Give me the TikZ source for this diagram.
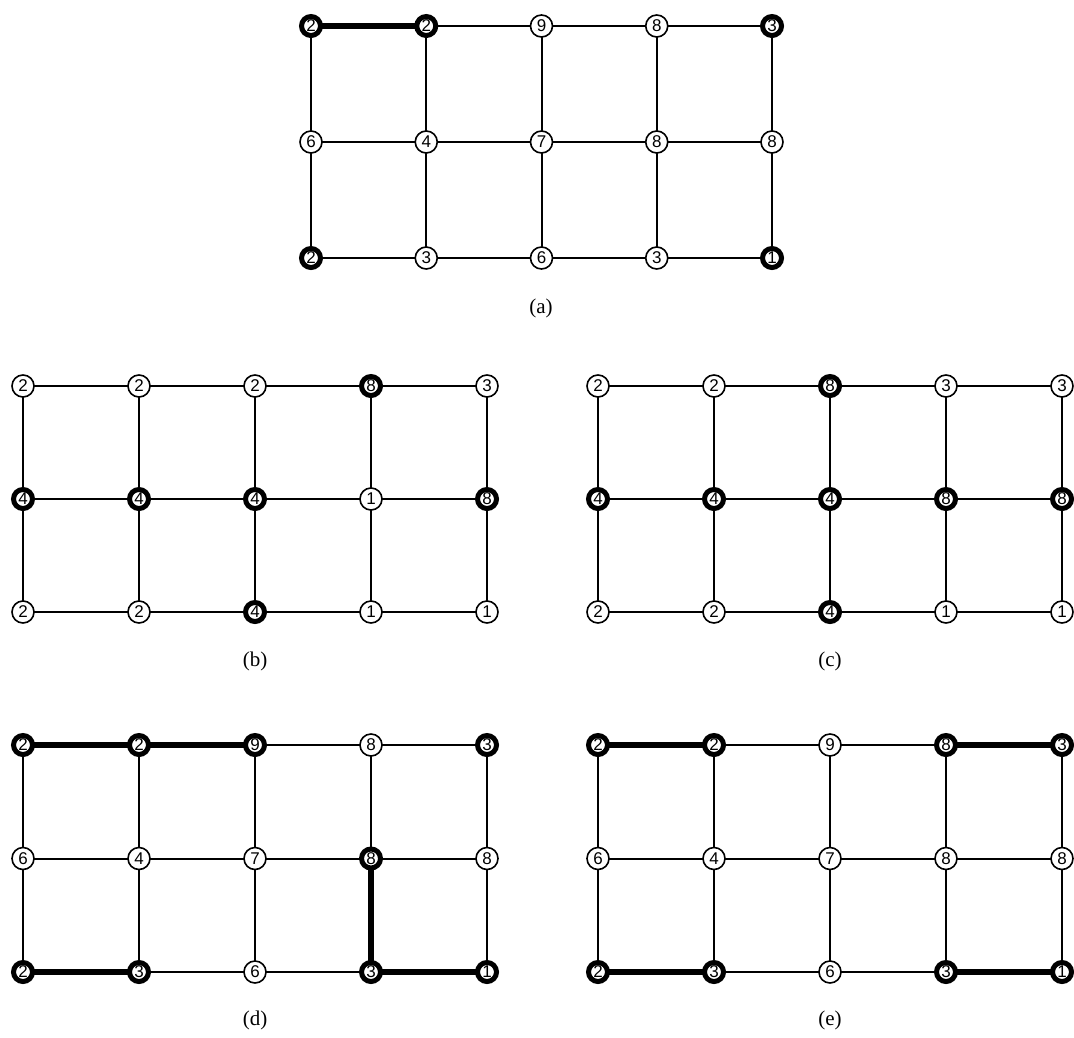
\documentclass[tikz,border=0pt]{standalone}
\usepackage{fontspec}
\newfontfamily\numfont{Liberation Sans}
\newfontfamily\capfont{Liberation Serif}
\begin{document}
\begin{tikzpicture}[x=1pt,y=-1pt,
  vtx/.style={circle,draw=black,fill=white,line width=1.6pt,minimum size=22pt,inner sep=0pt,font=\numfont\fontsize{17}{17}\selectfont},
  hvtx/.style={vtx,line width=5pt,minimum size=19pt},
  edg/.style={line width=2pt},
  hedg/.style={line width=5.5pt},
  captxt/.style={font=\capfont\fontsize{21}{21}\selectfont}]
\useasboundingbox (0,0) rectangle (1074,1037);
\newcommand{\mkgrid}[5]{%
  \foreach \r in {0,1,2} {\foreach \c in {0,1,2,3,4} {
    \coordinate (#1-\c-\r) at ({#2+\c*#4},{#3+\r*#5});
  }}
}
\newcommand{\drawgridedges}[1]{%
  \foreach \r in {0,1,2} {\foreach \c/\n in {0/1,1/2,2/3,3/4} {
    \draw[edg] (#1-\c-\r) -- (#1-\n-\r);
  }}
  \foreach \c in {0,1,2,3,4} {\foreach \r/\n in {0/1,1/2} {
    \draw[edg] (#1-\c-\r) -- (#1-\c-\n);
  }}
}
\newcommand{\putnodes}[2]{%
  \foreach \c/\r/\v/\h in {#2} {
    \ifnum\h=1
      \node[hvtx] (#1n-\c-\r) at (#1-\c-\r) {\v};
    \else
      \node[vtx] (#1n-\c-\r) at (#1-\c-\r) {\v};
    \fi
  }
}
% panel a
\mkgrid{a}{311}{26}{115.25}{116}
\drawgridedges{a}
\draw[hedg] (a-0-0) -- (a-1-0);
\putnodes{a}{0/0/2/1,1/0/2/1,2/0/9/0,3/0/8/0,4/0/3/1,0/1/6/0,1/1/4/0,2/1/7/0,3/1/8/0,4/1/8/0,0/2/2/1,1/2/3/0,2/2/6/0,3/2/3/0,4/2/1/1}
\node[captxt] (capa) at (541,308) {(a)};
% panel b
\mkgrid{b}{23}{386}{116}{113}
\drawgridedges{b}
\putnodes{b}{0/0/2/0,1/0/2/0,2/0/2/0,3/0/8/1,4/0/3/0,0/1/4/1,1/1/4/1,2/1/4/1,3/1/1/0,4/1/8/1,0/2/2/0,1/2/2/0,2/2/4/1,3/2/1/0,4/2/1/0}
\node[captxt] (capb) at (255,661) {(b)};
% panel c
\mkgrid{c}{598}{386}{116}{113}
\drawgridedges{c}
\putnodes{c}{0/0/2/0,1/0/2/0,2/0/8/1,3/0/3/0,4/0/3/0,0/1/4/1,1/1/4/1,2/1/4/1,3/1/8/1,4/1/8/1,0/2/2/0,1/2/2/0,2/2/4/1,3/2/1/0,4/2/1/0}
\node[captxt] (capc) at (830,661) {(c)};
% panel d
\mkgrid{d}{23}{745}{116}{113.5}
\drawgridedges{d}
\draw[hedg] (d-0-0) -- (d-1-0) -- (d-2-0);
\draw[hedg] (d-0-2) -- (d-1-2);
\draw[hedg] (d-3-1) -- (d-3-2) -- (d-4-2);
\putnodes{d}{0/0/2/1,1/0/2/1,2/0/9/1,3/0/8/0,4/0/3/1,0/1/6/0,1/1/4/0,2/1/7/0,3/1/8/1,4/1/8/0,0/2/2/1,1/2/3/1,2/2/6/0,3/2/3/1,4/2/1/1}
\node[captxt] (capd) at (255,1020) {(d)};
% panel e
\mkgrid{e}{598}{745}{116}{113.5}
\drawgridedges{e}
\draw[hedg] (e-0-0) -- (e-1-0);
\draw[hedg] (e-3-0) -- (e-4-0);
\draw[hedg] (e-0-2) -- (e-1-2);
\draw[hedg] (e-3-2) -- (e-4-2);
\putnodes{e}{0/0/2/1,1/0/2/1,2/0/9/0,3/0/8/1,4/0/3/1,0/1/6/0,1/1/4/0,2/1/7/0,3/1/8/0,4/1/8/0,0/2/2/1,1/2/3/1,2/2/6/0,3/2/3/1,4/2/1/1}
\node[captxt] (cape) at (830,1020) {(e)};
\end{tikzpicture}
\end{document}
